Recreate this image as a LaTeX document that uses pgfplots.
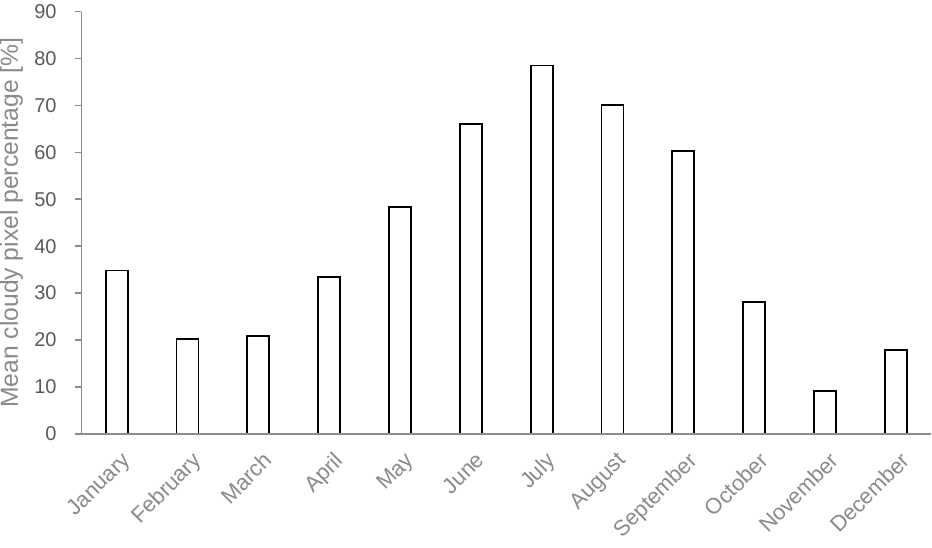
\documentclass[border=0pt]{standalone}
\usepackage{pgfplots}
\pgfplotsset{compat=1.18}
\usepackage{fontspec}
\setmainfont{Liberation Sans}

\definecolor{axisgray}{HTML}{8C8C8C}
\definecolor{tickgray}{HTML}{595959}
\definecolor{labelgray}{HTML}{8A8A8A}

\begin{document}
\begin{tikzpicture}
\begin{axis}[
    scale only axis,
    width=638pt, height=317pt,
    xmin=-0.5, xmax=11.5,
    ymin=0, ymax=90,
    ytick={0,10,...,90},
    xtick={0,...,11},
    xticklabels={January,February,March,April,May,June,July,August,September,October,November,December},
    axis x line*=bottom,
    axis y line*=left,
    axis line style={axisgray, line width=1.1pt},
    x tick style={draw=none},
    y tick style={axisgray, line width=1.1pt},
    major tick length=5pt,
    tick align=outside,
    /pgf/number format/assume math mode=true,
    yticklabel style={font=\fontsize{15}{18}\selectfont, text=tickgray, xshift=-10pt},
    xticklabel style={font=\fontsize{16.5}{19}\selectfont, text=labelgray, rotate=45, anchor=north east, xshift=0pt, yshift=-4pt},
    ylabel={Mean cloudy pixel percentage [\%]},
    every axis y label/.style={at={(ticklabel cs:0.5)}, rotate=90, anchor=south,
        font=\fontsize{18.5}{22}\selectfont, text=labelgray, inner sep=0pt, yshift=5pt},
    clip=false,
]
\addplot[ybar, bar width=16.5pt, draw=black, line width=1.3pt, fill=white] coordinates {
    (0,34.8) (1,20.2) (2,20.9) (3,33.4) (4,48.3) (5,66.0)
    (6,78.5) (7,70.0) (8,60.2) (9,28.1) (10,9.1) (11,17.8)
};
\draw[axisgray, line width=1.1pt] (axis cs:-0.5,0) -- (axis cs:11.5,0);
\end{axis}
\end{tikzpicture}
\end{document}
